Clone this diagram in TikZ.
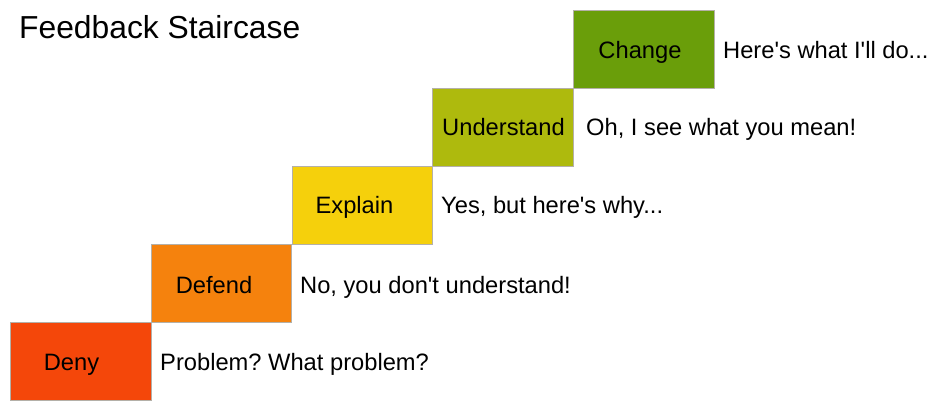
\documentclass[tikz,border=0pt]{standalone}
\usepackage{fontspec}
\setmainfont{Liberation Sans}[Ligatures=TeXOff]
\frenchspacing
\definecolor{cDeny}{HTML}{F4470A}
\definecolor{cDefend}{HTML}{F5820D}
\definecolor{cExplain}{HTML}{F5D00C}
\definecolor{cUnderstand}{HTML}{AEBA0D}
\definecolor{cChange}{HTML}{6A9E0A}
\definecolor{edgegray}{HTML}{B4B0A8}
\begin{document}
\begin{tikzpicture}[x=1pt,y=-1pt,
  stepbox/.style={draw=edgegray, line width=0.8pt, minimum width=140.5pt, minimum height=78pt, inner sep=0pt, anchor=north west},
  steplabel/.style={anchor=base, inner sep=0pt, font=\fontsize{23.7}{28}\selectfont},
  saying/.style={anchor=base west, inner sep=0pt, font=\fontsize{23.7}{28}\selectfont},
  titletext/.style={anchor=base west, inner sep=0pt, font=\fontsize{31.8}{36}\selectfont}]
\useasboundingbox (0,0) rectangle (943,412);
\node[stepbox, fill=cDeny] (b1) at (10,322) {};
\node[stepbox, fill=cDefend] (b2) at (150.8,244) {};
\node[stepbox, fill=cExplain] (b3) at (291.5,166.3) {};
\node[stepbox, fill=cUnderstand] (b4) at (432.3,88.3) {};
\node[stepbox, fill=cChange] (b5) at (573,10) {};
\node[steplabel] (l1) at (71.5,370.5) {Deny};
\node[steplabel] (l2) at (214,293) {Defend};
\node[steplabel] (l3) at (354.5,213.5) {Explain};
\node[steplabel] (l4) at (503.5,135.5) {Understand};
\node[steplabel] (l5) at (640,58.5) {Change};
\node[saying] (s1) at (160,370.5) {Problem? What problem?};
\node[saying] (s2) at (300,293) {No, you don't understand!};
\node[saying] (s3) at (441,213.5) {Yes, but here's why...};
\node[saying] (s4) at (586,135.5) {Oh, I see what you mean!};
\node[saying] (s5) at (723,58.5) {Here's what I'll do...};
\node[titletext] (title) at (19,38.3) {Feedback Staircase};
\end{tikzpicture}
\end{document}
